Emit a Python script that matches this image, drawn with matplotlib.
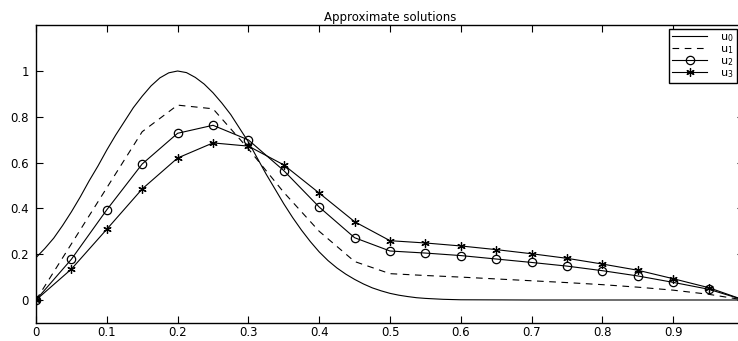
import matplotlib
matplotlib.use("Agg")
import matplotlib.pyplot as plt

plt.rcParams['font.family'] = ['DejaVu Sans']
plt.rcParams['mathtext.fontset'] = 'dejavusans'

# Node points (coarse grid)
x_nodes = [0.0, 0.05, 0.1, 0.15, 0.2, 0.25, 0.3, 0.35, 0.4, 0.45, 0.5,
           0.55, 0.6, 0.65, 0.7, 0.75, 0.8, 0.85, 0.9, 0.95, 1.0]
u1 = [0.0, 0.245, 0.49, 0.735, 0.851, 0.835, 0.66, 0.47, 0.30, 0.168, 0.115,
      0.107, 0.100, 0.092, 0.084, 0.076, 0.067, 0.056, 0.043, 0.025, 0.0]
u2 = [0.0, 0.178, 0.394, 0.594, 0.728, 0.763, 0.699, 0.565, 0.406, 0.272, 0.214,
      0.205, 0.194, 0.179, 0.164, 0.148, 0.128, 0.105, 0.077, 0.047, 0.0]
u3 = [0.0, 0.135, 0.309, 0.485, 0.620, 0.686, 0.672, 0.590, 0.467, 0.342, 0.259,
      0.249, 0.236, 0.220, 0.202, 0.182, 0.157, 0.130, 0.093, 0.054, 0.0]

# Initial profile (fine grid)
x_fine = [0.0, 0.0125, 0.025, 0.0375, 0.05, 0.0625, 0.075, 0.0875, 0.1, 0.1125,
          0.125, 0.1375, 0.15, 0.1625, 0.175, 0.1875, 0.2, 0.2125, 0.225, 0.2375,
          0.25, 0.2625, 0.275, 0.2875, 0.3, 0.3125, 0.325, 0.3375, 0.35, 0.3625,
          0.375, 0.3875, 0.4, 0.4125, 0.425, 0.4375, 0.45, 0.4625, 0.475, 0.4875,
          0.5, 0.5125, 0.525, 0.5375, 0.55, 0.5625, 0.575, 0.5875, 0.6,
          0.7, 0.8, 0.9, 1.0]
u0 = [0.185, 0.225, 0.27, 0.325, 0.385, 0.45, 0.52, 0.585, 0.655, 0.72,
      0.78, 0.84, 0.89, 0.935, 0.97, 0.992, 1.0, 0.993, 0.972, 0.943,
      0.905, 0.86, 0.81, 0.75, 0.69, 0.62, 0.55, 0.485, 0.42, 0.36,
      0.305, 0.255, 0.21, 0.172, 0.14, 0.113, 0.09, 0.07, 0.053, 0.04,
      0.029, 0.021, 0.015, 0.01, 0.007, 0.005, 0.003, 0.002, 0.001,
      0.0, 0.0, 0.0, 0.0]

labels = [r'u$_{\mathregular{0}}$', r'u$_{\mathregular{1}}$',
          r'u$_{\mathregular{2}}$', r'u$_{\mathregular{3}}$']
xticks = [0, 0.1, 0.2, 0.3, 0.4, 0.5, 0.6, 0.7, 0.8, 0.9, 1.0]
xticklabels = ['0', '0.1', '0.2', '0.3', '0.4', '0.5', '0.6', '0.7', '0.8', '0.9', '']
yticks = [0, 0.2, 0.4, 0.6, 0.8, 1.0]
yticklabels = ['0', '0.2', '0.4', '0.6', '0.8', '1']

W, H = 738, 341
fig = plt.figure(figsize=(W / 100, H / 100), dpi=100)
left = 36 / W
right = 744 / W
bottom = (H - 322.9) / H
top = (H - 25.2) / H
ax = fig.add_axes([left, bottom, right - left, top - bottom])

lw = 0.8
ax.plot(x_fine, u0, color='black', lw=lw, label=labels[0])
ax.plot(x_nodes, u1, color='black', lw=lw, ls=(0, (6, 5)), label=labels[1])
ax.plot(x_nodes, u2, color='black', lw=lw, marker='o', ms=6, mfc='none',
        mew=0.9, label=labels[2])
ax.plot(x_nodes, u3, color='black', lw=lw, marker=(6, 2, 0), ms=6, mew=0.9,
        label=labels[3])

ax.set_xlim(0, 1)
ax.set_ylim(-0.1, 1.2)
ax.set_xticks(xticks)
ax.set_xticklabels(xticklabels)
ax.set_yticks(yticks)
ax.set_yticklabels(yticklabels)
ax.tick_params(axis='x', direction='in', length=5, width=0.8, labelsize=8.5,
               top=True, pad=2.5)
ax.tick_params(axis='y', direction='in', length=5, width=0.8, labelsize=8.5,
               right=True, pad=5)
for s in ax.spines.values():
    s.set_linewidth(1.0)

ax.set_title('Approximate solutions', fontsize=8.5, pad=3)
ax.set_xlabel('x', fontsize=8.5, labelpad=-0.5)

leg = ax.legend(loc='upper right', bbox_to_anchor=(737 / W, 1 - 29 / H),
                bbox_transform=fig.transFigure, borderaxespad=0,
                fontsize=8, handlelength=3.1, labelspacing=0.0,
                handletextpad=1.2, borderpad=0.3, fancybox=False,
                framealpha=1, edgecolor='black')
leg.get_frame().set_linewidth(1.0)

fig.savefig('out.png', dpi=100)
